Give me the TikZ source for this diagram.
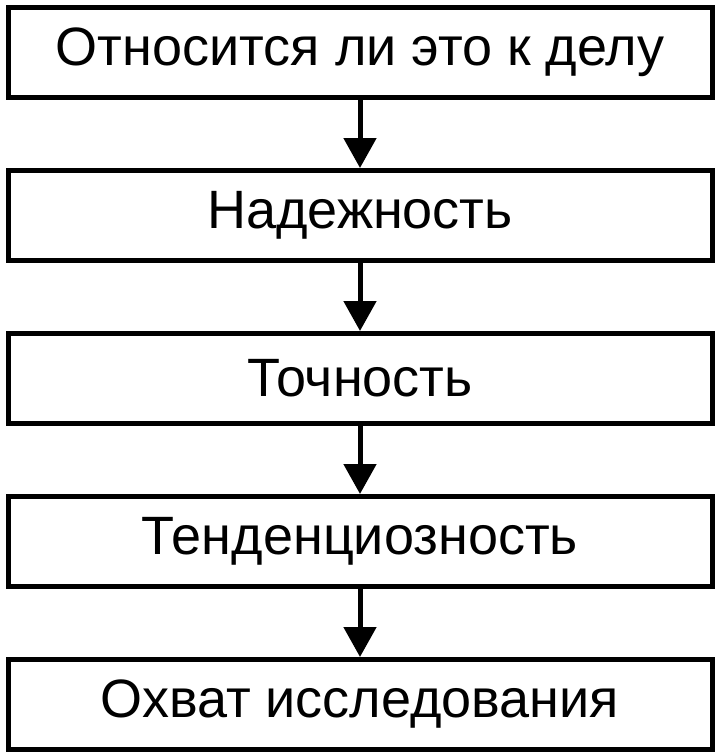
\documentclass[tikz,border=0pt]{standalone}
\usepackage{fontspec}
\setmainfont{Liberation Sans}
\usetikzlibrary{positioning,arrows.meta}

\tikzset{
  stage/.style={draw,line width=5pt,minimum width=704pt,minimum height=90pt,
    inner sep=0pt,font=\fontsize{54}{58}\selectfont},
  flow/.style={line width=5pt,-{Triangle[length=30pt,width=32pt]}}
}

\begin{document}
\begin{tikzpicture}[x=1pt,y=1pt]
  \useasboundingbox (0,0) rectangle (720,-756);
  \node[stage] (rel) at (360,-52.5) {Относится ли это к делу};
  \node[stage,below=68pt of rel] (rlb) {Надежность};
  \node[stage,below=68pt of rlb] (acc) {Точность};
  \node[stage,below=68pt of acc] (bias) {Тенденциозность};
  \node[stage,below=68pt of bias] (scope) {Охват исследования};
  % arrows between the stages
  \foreach \a/\b in {rel/rlb,rlb/acc,acc/bias,bias/scope}
    \draw[flow] (\a) -- (\b);
\end{tikzpicture}
\end{document}
